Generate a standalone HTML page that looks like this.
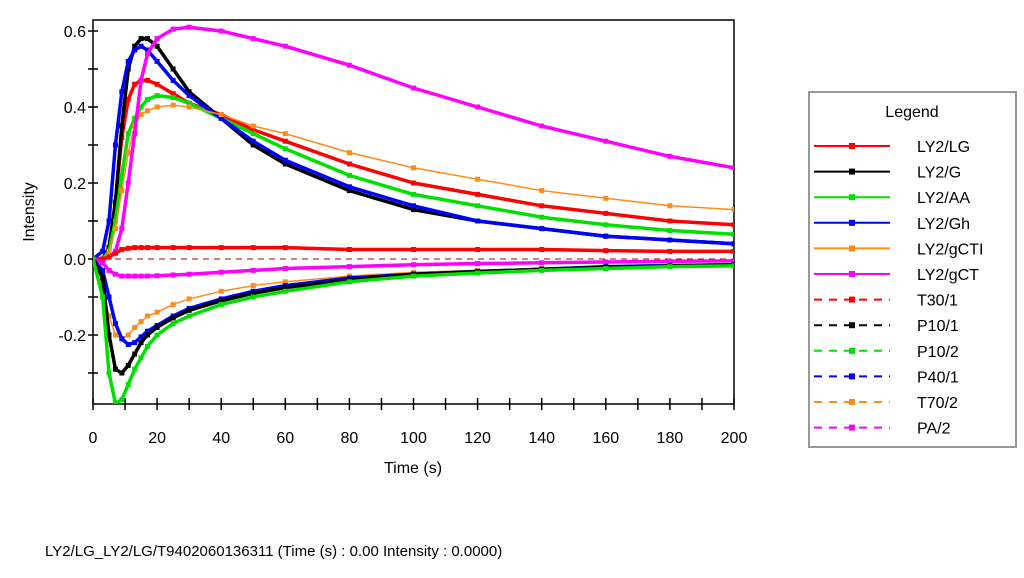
<!DOCTYPE html>
<html><head><meta charset="utf-8"><style>
body{margin:0;background:#fff;font-family:"Liberation Sans",sans-serif}
svg text{font-family:"Liberation Sans",sans-serif}
</style></head><body>
<svg width="1024" height="573">
<defs><clipPath id="cp"><rect x="93" y="20" width="641" height="384"/></clipPath></defs>
<rect x="93" y="20" width="641" height="384" fill="#fff" stroke="#000" stroke-width="1.5"/>
<g id="axes"></g>
<g id="series" clip-path="url(#cp)"></g>
<text x="413" y="473" font-size="16" text-anchor="middle">Time (s)</text>
<text transform="translate(34,212) rotate(-90)" font-size="16" text-anchor="middle">Intensity</text>
<g>
<rect x="809" y="92" width="207" height="355" fill="#fff" stroke="#999" stroke-width="2"/>
<text x="912" y="117" font-size="16" text-anchor="middle">Legend</text>
<g id="leg"></g>
</g>
<text x="45" y="556" font-size="15">LY2/LG_LY2/LG/T9402060136311 (Time (s) : 0.00  Intensity : 0.0000)</text>
</svg>
<script>
const times=[0,3,5,7,9,11,13,15,17,20,25,30,40,50,60,80,100,120,140,160,180,200];
const names=["LY2/LG","LY2/G","LY2/AA","LY2/Gh","LY2/gCTI","LY2/gCT","T30/1","P10/1","P10/2","P40/1","T70/2","PA/2"];
const colors=["#ff0000","#000000","#00e000","#0000ff","#ff8c1a","#ff00ff","#ff0000","#000000","#00e000","#0000ff","#ff8c1a","#ff00ff"];
const sLG=[0,0,.03,.15,.32,.42,.46,.47,.47,.46,.435,.41,.38,.34,.31,.25,.2,.17,.14,.12,.1,.09];
const sG=[0,0,.03,.15,.35,.5,.56,.58,.58,.56,.5,.44,.37,.3,.25,.18,.13,.1,.08,.06,.05,.04];
const sAA=[0,0,.02,.1,.22,.33,.37,.4,.42,.43,.425,.41,.37,.33,.29,.22,.17,.14,.11,.09,.075,.065];
const sGh=[0,.02,.1,.3,.44,.52,.55,.56,.55,.52,.47,.43,.37,.31,.26,.19,.14,.1,.08,.06,.05,.04];
const sGCTI=[0,0,.02,.08,.18,.28,.35,.38,.39,.4,.405,.4,.38,.35,.33,.28,.24,.21,.18,.16,.14,.13];
const sGCT=[0,0,.005,.02,.08,.2,.33,.47,.54,.58,.605,.61,.6,.58,.56,.51,.45,.4,.35,.31,.27,.24];
const sT30=[0,0,.005,.015,.025,.028,.03,.03,.03,.03,.03,.03,.03,.03,.03,.025,.025,.025,.025,.022,.02,.02];
const sPA=[0,-.01,-.03,-.04,-.045,-.045,-.045,-.045,-.045,-.044,-.042,-.04,-.035,-.03,-.025,-.02,-.015,-.012,-.01,-.008,-.006,-.005];
const sT70=[0,-.08,-.15,-.2,-.21,-.2,-.18,-.165,-.15,-.14,-.12,-.105,-.085,-.07,-.06,-.045,-.035,-.03,-.025,-.02,-.018,-.015];
const sP40=[0,-.03,-.1,-.17,-.21,-.225,-.22,-.205,-.19,-.175,-.15,-.13,-.105,-.085,-.07,-.05,-.04,-.033,-.027,-.02,-.017,-.015];
const sP101=[0,-.05,-.2,-.29,-.3,-.28,-.25,-.22,-.2,-.18,-.155,-.135,-.11,-.09,-.075,-.055,-.04,-.033,-.027,-.022,-.018,-.015];
const sP102=[0,-.1,-.3,-.38,-.37,-.33,-.29,-.26,-.23,-.2,-.17,-.15,-.12,-.1,-.085,-.06,-.045,-.037,-.03,-.025,-.02,-.018];
const xTicks=[0,20,40,60,80,100,120,140,160,180,200];
const yTicks=[-0.2,0.0,0.2,0.4,0.6];
const NS="http://www.w3.org/2000/svg";
const X=t=>93+t*(641/200), Y=v=>259-v*380;
function mk(tag,attrs,parent){const e=document.createElementNS(NS,tag);for(const k in attrs)e.setAttribute(k,attrs[k]);parent.appendChild(e);return e;}
const ax=document.getElementById('axes');
for(let t=0;t<=200;t+=10){const l=mk('line',{x1:X(t),x2:X(t),y1:398,y2:410,stroke:'#000','stroke-width':1.5},ax);

}
xTicks.forEach(t=>{const e=mk('text',{x:X(t),y:443,'font-size':16,'text-anchor':'middle'},ax);e.textContent=t;

});
for(let v=-0.3;v<=0.61;v+=0.1){const l=mk('line',{x1:88,x2:98,y1:Y(v),y2:Y(v),stroke:'#000','stroke-width':1.5},ax);

}
yTicks.forEach(v=>{const e=mk('text',{x:86,y:Y(v)+6,'font-size':16,'text-anchor':'end'},ax);e.textContent=v.toFixed(1);

});
const zl=mk('line',{x1:93,x2:734,y1:Y(0),y2:Y(0),stroke:'#a00','stroke-dasharray':'6,5'},ax);


const all=[sLG,sG,sAA,sGh,sGCTI,sGCT,sT30,sPA,sT70,sP40,sP101,sP102];
const allColors=["#ff0000","#000000","#00e000","#0000ff","#ff8c1a","#ff00ff","#ff0000","#ff00ff","#ff8c1a","#0000ff","#000000","#00e000"];
const sg=document.getElementById('series');
all.forEach((s,i)=>{
 const g=mk('g',{},sg);
 
 
 const w=(i==4||i==8)?1.5:3.5;
 mk('polyline',{points:s.map((v,j)=>X(times[j])+','+Y(v)).join(' '),fill:'none',stroke:allColors[i],'stroke-width':w,'stroke-linejoin':'round'},g);
 s.forEach((v,j)=>{const m=mk('rect',{x:X(times[j])-2.5,y:Y(v)-2.5,width:5,height:5,fill:allColors[i]},g);
 
 });
});
const lg=document.getElementById('leg');
names.forEach((n,i)=>{
 const y=146+i*25.6;
 const g=mk('g',{},lg);
 
 
 mk('line',{x1:814,x2:890,y1:y,y2:y,stroke:colors[i],'stroke-width':2,'stroke-dasharray':i>=6?'8,7':'none'},g);
 mk('rect',{x:849,y:y-3,width:6,height:6,fill:colors[i]},g);
 const t=mk('text',{x:917,y:y+6,'font-size':16},g);t.textContent=n;
});
</script>
</body></html>
